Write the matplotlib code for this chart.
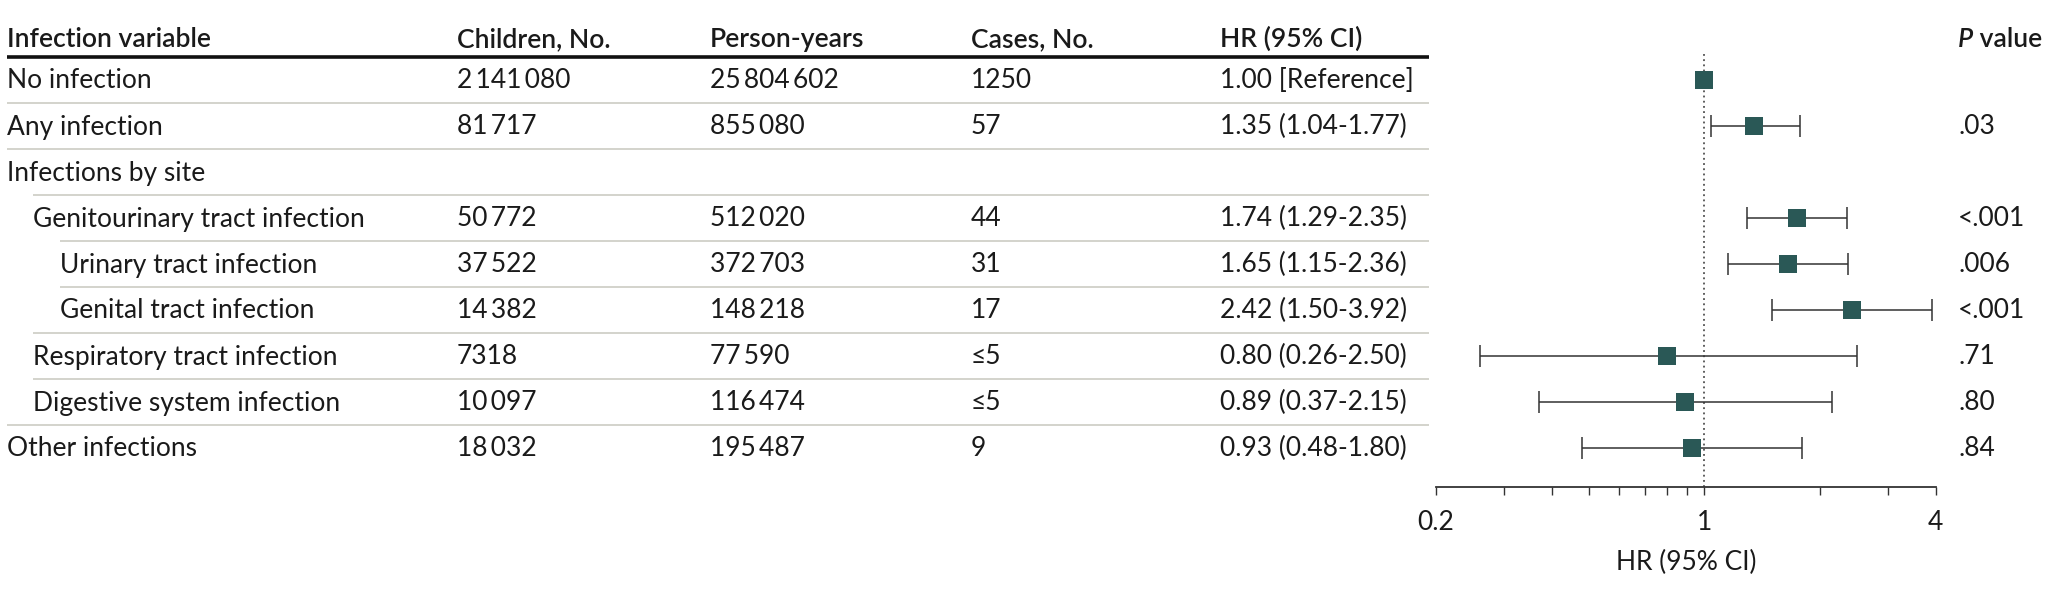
import numpy as np
import matplotlib
matplotlib.use("Agg")
import matplotlib.pyplot as plt
from matplotlib.ticker import FixedLocator, NullFormatter

# ---------------- data ----------------
headers = ["Infection variable", "Children, No.", "Person-years", "Cases, No.", "HR (95% CI)"]
variables = ["No infection", "Any infection", "Infections by site",
             "Genitourinary tract infection", "Urinary tract infection",
             "Genital tract infection", "Respiratory tract infection",
             "Digestive system infection", "Other infections"]
levels = [0, 0, 0, 1, 2, 2, 1, 1, 0]
children = ["2\u2009141\u2009080", "81\u2009717", "", "50\u2009772", "37\u2009522", "14\u2009382", "7318", "10\u2009097", "18\u2009032"]
person_years = ["25\u2009804\u2009602", "855\u2009080", "", "512\u2009020", "372\u2009703", "148\u2009218", "77\u2009590", "116\u2009474", "195\u2009487"]
cases = ["1250", "57", "", "44", "31", "17", "\u22645", "\u22645", "9"]
hr_text = ["1.00 [Reference]", "1.35 (1.04-1.77)", "", "1.74 (1.29-2.35)", "1.65 (1.15-2.36)",
           "2.42 (1.50-3.92)", "0.80 (0.26-2.50)", "0.89 (0.37-2.15)", "0.93 (0.48-1.80)"]
p_values = ["", ".03", "", "<.001", ".006", "<.001", ".71", ".80", ".84"]
hr = [1.00, 1.35, np.nan, 1.74, 1.65, 2.42, 0.80, 0.89, 0.93]
ci_low = [np.nan, 1.04, np.nan, 1.29, 1.15, 1.50, 0.26, 0.37, 0.48]
ci_high = [np.nan, 1.77, np.nan, 2.35, 2.36, 3.92, 2.50, 2.15, 1.80]
major_ticks = [0.2, 1, 4]
major_labels = ["0.2", "1", "4"]
minor_ticks = [0.3, 0.4, 0.5, 0.6, 0.7, 0.8, 0.9, 2, 3]

# ---------------- style ----------------
FAM = ["Lato", "DejaVu Sans"]
plt.rcParams["font.family"] = FAM
TXT = "#1a1a1a"
TEAL = "#2a5856"
LINE = "#333333"
SEP = "#d0d0c8"
HW = "semibold"

W, H = 2048, 594
fig = plt.figure(figsize=(W / 100, H / 100), dpi=100)
renderer = fig.canvas.get_renderer()


def fit_size(s, target_px, weight="normal"):
    t = fig.text(0, 0, s, fontsize=10, fontweight=weight)
    w = t.get_window_extent(renderer).width
    t.remove()
    return 10 * target_px / w


FS = fit_size("Genitourinary tract infection", 332)
FSH = fit_size("Infection variable", 204, HW)

# table axes in pixel coordinates
tab = fig.add_axes([0, 0, 1, 1])
tab.set_xlim(0, W)
tab.set_ylim(H, 0)
tab.axis("off")

row0, rowh = 80.0, 46.0


def ry(i):
    return row0 + rowh * i


col_x = [7, 457, 710, 971, 1220]
indent = [7, 33, 60]
p_x = 1958
header_y = 38.5
line_right = 1429
base_off = 8.5

# headers
for x, h in zip(col_x, headers):
    tab.text(x, header_y + base_off, h, fontsize=FSH, color=TXT, va="baseline", ha="left",
             fontweight=HW)
ptxt = tab.text(p_x, header_y + base_off, "P", fontsize=FSH, color=TXT, va="baseline",
                ha="left", fontstyle="italic", fontweight=HW)
tab.annotate(" value", xy=(1, 0), xycoords=ptxt, va="bottom", ha="left",
             fontsize=FSH, color=TXT, fontweight=HW)

# thick header rule
tab.plot([7, line_right], [56.7, 56.7], color="#111111", lw=2.6, solid_capstyle="butt")

for i, name in enumerate(variables):
    y = ry(i) + base_off
    tab.text(indent[levels[i]], y, name, fontsize=FS, color=TXT, va="baseline", ha="left")
    for x, col in zip(col_x[1:], [children, person_years, cases, hr_text]):
        tab.text(x, y, col[i], fontsize=FS, color=TXT, va="baseline", ha="left")
    tab.text(p_x, y, p_values[i], fontsize=FS, color=TXT, va="baseline", ha="left")
    if i > 0:
        ys = ry(i) - rowh / 2
        tab.plot([indent[levels[i]], line_right], [ys, ys], color=SEP, lw=1.3,
                 solid_capstyle="butt")

# ---------------- forest plot ----------------
x_left, x_right = 1436, 1935.5
y_axis_px, y_top_px = 486.7, 45
ax = fig.add_axes([x_left / W, 1 - y_axis_px / H, (x_right - x_left) / W,
                   (y_axis_px - y_top_px) / H])
ax.set_xscale("log")
ax.set_xlim(0.2, 4)
ax.set_ylim((y_axis_px - row0) / rowh, (y_top_px - row0) / rowh)
ax.patch.set_alpha(0)
for s in ["top", "right", "left"]:
    ax.spines[s].set_visible(False)
ax.spines["bottom"].set_color(LINE)
ax.spines["bottom"].set_linewidth(1.3)
ax.set_yticks([])

rows = np.arange(len(variables))
ax.plot([1, 1], [(y_axis_px - row0) / rowh, (51.7 - row0) / rowh], color=LINE,
        lw=1.1, ls=(0, (1.2, 2.2)))

hr_a = np.array(hr)
lo_a = np.array(ci_low)
hi_a = np.array(ci_high)
m = ~np.isnan(lo_a)
ax.errorbar(hr_a[m], rows[m], xerr=[hr_a[m] - lo_a[m], hi_a[m] - hr_a[m]], fmt="none",
            ecolor=LINE, elinewidth=1.1, capsize=7.6, capthick=1.1)
mk = ~np.isnan(hr_a)
ax.plot(hr_a[mk], rows[mk], ls="none", marker="s", markersize=12.4, color=TEAL,
        markeredgewidth=0, zorder=5)

ax.xaxis.set_major_locator(FixedLocator(major_ticks))
ax.xaxis.set_minor_locator(FixedLocator(minor_ticks))
ax.set_xticklabels(major_labels)
ax.xaxis.set_minor_formatter(NullFormatter())
ax.tick_params(axis="x", which="both", direction="out", length=5.8, width=1.0,
               color=LINE, labelsize=FS, labelcolor=TXT, pad=11)
ax.set_xlabel("HR (95% CI)", fontsize=FS, color=TXT, labelpad=11)

fig.savefig("out.png", dpi=100)
